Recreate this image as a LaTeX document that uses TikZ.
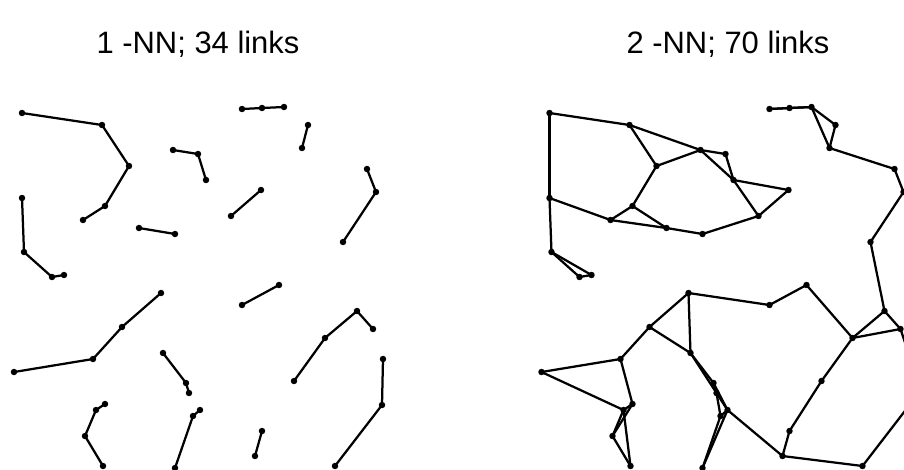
\documentclass[tikz,border=0pt]{standalone}
\usepackage{fontspec}
\setmainfont{Liberation Sans}

% sample points, in pixels from the top left corner
\newcommand\sites[1]{%
    \foreach \n/\x/\y in {a1/22/113, a2/102/125, a3/129/166, a4/105/206, a5/83/220,
        b1/173/150, b2/198/154, b3/206/180,
        c1/22/198, c2/24/252, c3/52/277, c4/64/275,
        d1/139/228, d2/175/234,
        e1/242/109, e2/262/108, e3/284/107,
        f1/308/125, f2/302/148,
        g1/261/190, g2/231/216,
        h1/367/169, h2/376/192, h3/343/242,
        i1/161/293, i2/122/327, i3/93/359, i4/14/372,
        j1/163/353, j2/186/383, j3/189/393,
        k1/105/404, k2/96/410, k3/85/436, k4/103/466,
        l1/200/410, l2/193/416, l3/175/468,
        m1/279/285, m2/242/305,
        n1/373/329, n2/357/311, n3/325/338, n4/294/381,
        o1/383/359, o2/382/405, o3/335/466,
        p1/262/431, p2/255/456}
        \coordinate (#1\n) at (\x,\y);
}
\newcommand\sitenames{a1,a2,a3,a4,a5,b1,b2,b3,c1,c2,c3,c4,d1,d2,e1,e2,e3,f1,f2,
    g1,g2,h1,h2,h3,i1,i2,i3,i4,j1,j2,j3,k1,k2,k3,k4,l1,l2,l3,m1,m2,
    n1,n2,n3,n4,o1,o2,o3,p1,p2}

\begin{document}
\begin{tikzpicture}[x=0.25mm, y=-0.25mm,
        link/.style={line width=1.6pt, line cap=round},
        caption/.style={font=\fontsize{22}{26}\selectfont, inner sep=0pt}]
    \useasboundingbox (0,0) rectangle (904,469);
    \clip (0,0) rectangle (904,469);

    \node[caption] (cap1) at (198,44) {1 -NN; 34 links};
    \node[caption] (cap2) at (728,44) {2 -NN; 70 links};

    % nearest neighbour only
    \sites{L}
    \foreach \u/\v in {a1/a2, a2/a3, a3/a4, a4/a5, b1/b2, b2/b3, c1/c2, c2/c3, c3/c4,
        d1/d2, e1/e2, e2/e3, f1/f2, g1/g2, h1/h2, h2/h3, i1/i2, i2/i3, i3/i4,
        j1/j2, j2/j3, k1/k2, k2/k3, k3/k4, l1/l2, l2/l3, m1/m2, n1/n2, n2/n3,
        n3/n4, o1/o2, o2/o3, p1/p2}
        \draw[link] (L\u) -- (L\v);
    \foreach \n in \sitenames
        \fill (L\n) circle (2.3pt);

    % two nearest neighbours, same points moved over
    \begin{scope}[shift={(527.5,0)}]
        \sites{R}
    \end{scope}
    \foreach \u/\v in {a1/a2, a1/c1, a2/a3, a2/b1, a3/b1, a3/a4, a4/a5, a4/d1, a5/d1,
        a5/c1, c1/c2, c2/c3, c2/c4, c3/c4, d1/d2, d2/g2, b1/b2, b2/b3, b1/b3,
        b3/g1, b3/g2, g1/g2, e1/e2, e2/e3, e1/e3, e3/f1, e3/f2, f1/f2, f2/h1,
        h1/h2, h2/h3, h3/n2, n2/n1, n2/n3, n1/n3, n1/o1, o1/o2, o2/o3, o3/p2,
        n3/m1, m1/m2, m2/i1, i1/i2, i1/j1, i2/j1, i2/i3, i3/i4, i3/k1, i4/k2,
        k1/k2, k1/k3, k2/k3, k3/k4, k2/k4, j1/j2, j1/j3, j2/j3, j2/l1, j3/l1,
        j3/l2, l1/l2, l1/l3, l2/l3, l1/p2, p1/p2, p1/n4, n3/n4}
        \draw[link] (R\u) -- (R\v);
    \foreach \n in \sitenames
        \fill (R\n) circle (2.3pt);
\end{tikzpicture}
\end{document}
